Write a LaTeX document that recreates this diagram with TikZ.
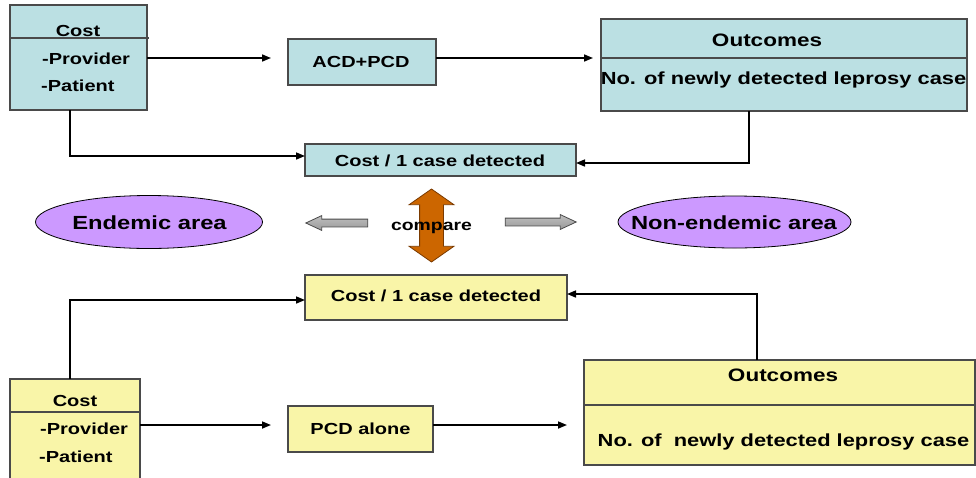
\documentclass[tikz,border=0pt]{standalone}
\usepackage{fontspec}
\setmainfont{Liberation Sans}[FakeStretch=1.25]
\usetikzlibrary{arrows.meta,shapes.geometric,shapes.arrows}
\definecolor{boxblue}{HTML}{BBE0E3}
\definecolor{boxyellow}{HTML}{F9F5A8}
\definecolor{areaviolet}{HTML}{CC99FF}
\definecolor{edgegray}{HTML}{4A4A4A}
\definecolor{cmporange}{HTML}{CC6600}
\definecolor{cmpedge}{HTML}{7A3A00}

\begin{document}
\begin{tikzpicture}[x=1pt,y=-1pt,
  panel/.style={draw=edgegray, line width=1.1pt, inner sep=0pt, outer sep=0pt, anchor=north west},
  bluepanel/.style={panel, fill=boxblue},
  yellowpanel/.style={panel, fill=boxyellow},
  divider/.style={draw=edgegray, line width=1.1pt},
  txt/.style={inner sep=0pt, anchor=base, font=\bfseries\fontsize{16}{18}\selectfont},
  listtxt/.style={txt, anchor=base west},
  headtxt/.style={txt, font=\bfseries\fontsize{18}{20}\selectfont},
  bodytxt/.style={txt, font=\bfseries\fontsize{17.5}{20}\selectfont},
  areatxt/.style={txt, font=\bfseries\fontsize{19}{21}\selectfont},
  area/.style={ellipse, draw=black, line width=0.8pt, fill=areaviolet, inner sep=0pt},
  conn/.style={line width=1.6pt, -{Triangle[length=9pt,width=7pt]}},
  grayarrow/.style={single arrow, top color=gray!50, bottom color=gray!80, draw=edgegray,
    line width=0.8pt, inner sep=3.5pt, single arrow head extend=3.5pt,
    single arrow tip angle=50},
]
\useasboundingbox (0,0) rectangle (976,477);

% ---------- upper row: ACD + PCD ----------
\node[bluepanel, minimum width=137pt, minimum height=105pt] (costA) at (10,5) {};
\draw[divider] (costA.west |- 0,38) -- (149,38);
\node[txt] (costAh) at (78,36) {Cost};
\node[listtxt] (costAp) at (42,64) {-Provider};
\node[listtxt] (costAq) at (41,91.5) {-Patient};

\node[bluepanel, minimum width=148pt, minimum height=46pt] (acd) at (288,39) {};
\node[txt] (acdt) at (361,67) {ACD+PCD};

\node[bluepanel, minimum width=366pt, minimum height=92pt] (outA) at (601,19) {};
\draw[divider] (outA.west |- 0,58) -- (outA.east |- 0,58);
\node[headtxt] (outAh) at (767,46) {Outcomes};
\node[bodytxt] (outAb) at (783.5,84) {No. of newly detected leprosy case};

\node[bluepanel, minimum width=271pt, minimum height=32pt] (rateA) at (305,144) {};
\node[txt] (rateAt) at (440,166) {Cost / 1 case detected};

\draw[conn, shorten >=17pt] (costA.east |- 0,58) -- (acd.west |- 0,58);
\draw[conn, shorten >=8pt] (acd.east |- 0,58) -- (outA.west |- 0,58);
\draw[conn] (costA.south -| 70,0) |- (rateA.west |- 0,156);
\draw[conn] (outA.south -| 749,0) |- (rateA.east |- 0,163);

% ---------- comparison band ----------
\node[area, minimum width=227pt, minimum height=53pt] (endemic) at (149,222) {};
\node[areatxt] (endemict) at (149.5,229) {Endemic area};
\node[area, minimum width=233pt, minimum height=52pt] (nonendemic) at (734.5,222) {};
\node[areatxt] (nonendemict) at (734,229) {Non-endemic area};
\node[grayarrow, shape border rotate=180, minimum height=62pt] (toendemic) at (341,223) {};
\node[grayarrow, minimum height=71pt] (tononendemic) at (536.5,222) {};
\node[double arrow, shape border rotate=90, fill=cmporange, draw=cmpedge, line width=0.8pt,
  minimum height=73pt, inner sep=11.5pt, double arrow head extend=10.5pt,
  double arrow tip angle=110] (cmp) at (431.5,225.5) {};
\node[txt, font=\bfseries\fontsize{15.5}{17}\selectfont] (cmpt) at (431.5,230) {compare};

% ---------- lower row: PCD alone ----------
\node[yellowpanel, minimum width=262pt, minimum height=45pt] (rateB) at (305,275) {};
\node[txt] (rateBt) at (436,301) {Cost / 1 case detected};

\node[yellowpanel, minimum width=130pt, minimum height=110pt] (costB) at (10,379) {};
\draw[divider] (costB.west |- 0,412) -- (costB.east |- 0,412);
\node[txt] (costBh) at (75,406) {Cost};
\node[listtxt] (costBp) at (40,434) {-Provider};
\node[listtxt] (costBq) at (39,462) {-Patient};

\node[yellowpanel, minimum width=145pt, minimum height=46pt] (pcd) at (288,406) {};
\node[txt] (pcdt) at (360.5,434) {PCD alone};

\node[yellowpanel, minimum width=391pt, minimum height=105pt] (outB) at (584,360) {};
\draw[divider] (outB.west |- 0,405) -- (outB.east |- 0,405);
\node[headtxt] (outBh) at (783,381) {Outcomes};
\node[bodytxt] (outBb) at (783.5,446) {No. of \ newly detected leprosy case};

\draw[conn] (costB.north -| 70,0) |- (rateB.west |- 0,300);
\draw[conn] (outB.north -| 757,0) |- (rateB.east |- 0,294);
\draw[conn, shorten >=17pt] (costB.east |- 0,425) -- (pcd.west |- 0,425);
\draw[conn, shorten >=17pt] (pcd.east |- 0,425) -- (outB.west |- 0,425);
\end{tikzpicture}
\end{document}
